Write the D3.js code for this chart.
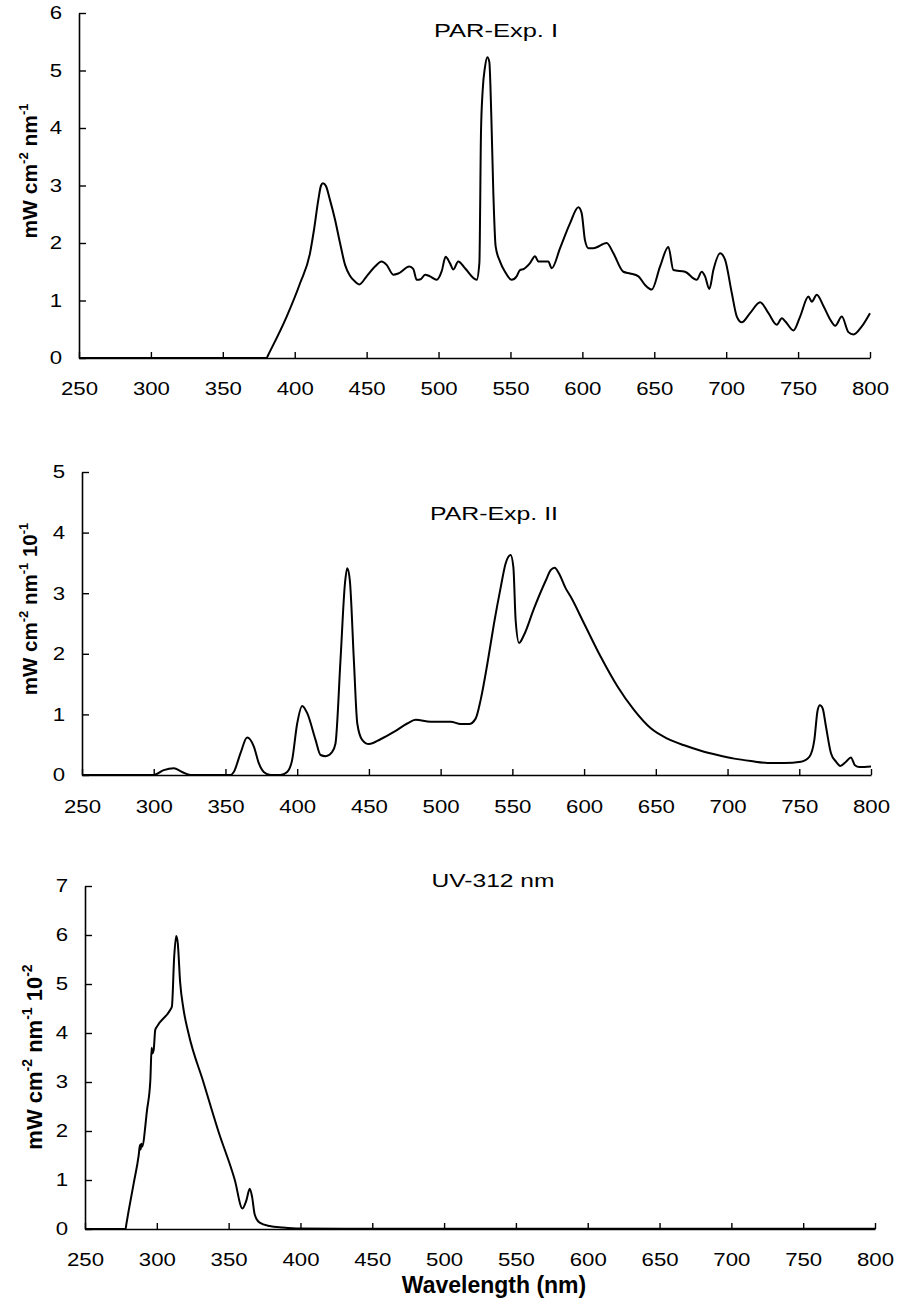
<!DOCTYPE html>
<html>
<head>
<meta charset="utf-8">
<script src="https://cdn.jsdelivr.net/npm/d3@7"></script>
<style>
  html, body { margin: 0; padding: 0; background: #fff; }
  svg { display: block; }
  text { font-family: "Liberation Sans", Arial, Helvetica, sans-serif; fill: #000; }
</style>
</head>
<body>
<svg id="chart" width="900" height="1305"></svg>
<script>
// ---------- DATA ----------
const xTickLabels = [250, 300, 350, 400, 450, 500, 550, 600, 650, 700, 750, 800];
const yTicksExp1 = [0, 1, 2, 3, 4, 5, 6];
const yTicksExp2 = [0, 1, 2, 3, 4, 5];
const yTicksUV = [0, 1, 2, 3, 4, 5, 6, 7];
const panelTitles = ["PAR-Exp. I", "PAR-Exp. II", "UV-312 nm"];
const xAxisTitle = "Wavelength (nm)";

// PAR-Exp. I  (mW cm-2 nm-1)
const exp1Wavelength = [250, 380.5, 381.3, 394.4, 403.7, 410.6, 413.4, 416.4, 418.3, 419.6, 421.7, 424.5, 428, 431.5, 435, 438.4, 441.9, 444.9, 450, 455.8, 460.4, 463.9, 468.5, 472, 479.7, 482.4, 484.8, 487.6, 490.6, 494, 498.7, 502.2, 504.9, 507.9, 510.3, 513.7, 518.4, 526.5, 528.4, 529.5, 530.7, 532.3, 533.9, 535.3, 536.7, 538.1, 539.7, 542.7, 546.2, 550.8, 554.3, 556.6, 559.4, 563.6, 567.1, 569.4, 576.3, 578.7, 584.5, 591.4, 597.2, 599.5, 601.8, 604.2, 607.7, 616.9, 621.6, 628.5, 633.2, 639, 643.6, 648.2, 654, 659.8, 663.3, 671.4, 679.5, 683, 685.3, 688.3, 691.1, 695.8, 699.2, 703.9, 707.4, 710.8, 716.6, 723.6, 729.4, 735.2, 738.7, 741, 746.8, 751.4, 757.2, 759.5, 763, 767.7, 772.3, 775.8, 780.4, 785, 788.5, 794.3, 800];
const exp1Irradiance = [0, 0, 0.04, 0.72, 1.30, 1.82, 2.23, 2.75, 3.00, 3.04, 2.99, 2.75, 2.41, 2.00, 1.62, 1.43, 1.33, 1.28, 1.42, 1.59, 1.68, 1.62, 1.45, 1.47, 1.59, 1.55, 1.36, 1.37, 1.45, 1.42, 1.36, 1.51, 1.76, 1.65, 1.54, 1.68, 1.56, 1.36, 1.66, 3.91, 4.66, 5.06, 5.23, 5.15, 4.20, 2.87, 1.94, 1.68, 1.50, 1.36, 1.42, 1.53, 1.55, 1.65, 1.77, 1.68, 1.68, 1.56, 1.91, 2.34, 2.62, 2.52, 2.05, 1.91, 1.91, 2.00, 1.82, 1.50, 1.47, 1.42, 1.27, 1.19, 1.59, 1.93, 1.53, 1.50, 1.36, 1.50, 1.42, 1.20, 1.53, 1.82, 1.71, 1.13, 0.72, 0.62, 0.78, 0.97, 0.78, 0.58, 0.69, 0.64, 0.48, 0.72, 1.07, 0.98, 1.10, 0.90, 0.67, 0.56, 0.72, 0.45, 0.41, 0.55, 0.78];

// PAR-Exp. II  (mW cm-2 nm-1 10-1)
const exp2Wavelength = [250, 300, 307, 314, 319.8, 325.6, 353.5, 355.8, 360.5, 365.1, 369.8, 373.3, 376.7, 381.4, 388.4, 393, 396.5, 400, 403.5, 407, 412.8, 416.3, 419.8, 424.4, 426.7, 430.2, 433.3, 434.9, 436.7, 439.5, 441.9, 445.3, 450, 458.1, 467.4, 476.7, 482.6, 493, 507, 514, 519.8, 524.4, 527.9, 532.6, 537.2, 541.9, 545.3, 548.8, 550.7, 552.3, 554.7, 558.1, 565.1, 573.3, 576.7, 579.5, 582.6, 587.2, 590.7, 600, 611.6, 623.3, 634.9, 646.5, 658.1, 669.8, 681.4, 693, 704.7, 716.3, 727.9, 739.5, 751.2, 757, 760.5, 762.8, 764.4, 766.3, 768.6, 772.1, 775.6, 778.6, 782.6, 786, 788.8, 791.9, 800];
const exp2Irradiance = [0, 0, 0.08, 0.11, 0.05, 0, 0, 0.05, 0.36, 0.62, 0.47, 0.19, 0.05, 0, 0, 0.05, 0.25, 0.85, 1.14, 1.02, 0.58, 0.33, 0.31, 0.38, 0.52, 1.90, 3.16, 3.41, 3.21, 1.90, 0.85, 0.58, 0.51, 0.59, 0.71, 0.85, 0.91, 0.88, 0.88, 0.84, 0.84, 0.93, 1.24, 1.84, 2.50, 3.10, 3.49, 3.63, 3.43, 2.55, 2.18, 2.31, 2.75, 3.21, 3.38, 3.42, 3.32, 3.08, 2.94, 2.50, 1.95, 1.46, 1.07, 0.77, 0.60, 0.49, 0.40, 0.33, 0.27, 0.23, 0.20, 0.20, 0.22, 0.30, 0.58, 1.07, 1.15, 1.10, 0.80, 0.36, 0.22, 0.15, 0.22, 0.29, 0.16, 0.13, 0.14];

// UV-312 nm  (mW cm-2 nm-1 10-2)
const uvWavelength = [250, 278.2, 278.8, 280.5, 283.9, 287.4, 288.3, 288.7, 289.2, 289.7, 293.2, 295.5, 296.4, 296.8, 297.8, 298.9, 300.1, 309.3, 310.5, 312.1, 313.5, 314.6, 316.2, 318.5, 322, 332.4, 342.8, 354.3, 359.6, 362.4, 364.7, 366.3, 368.2, 371.6, 378.5, 387.8, 399.3, 450, 800];
const uvIrradiance = [0, 0, 0.1, 0.39, 0.93, 1.51, 1.72, 1.62, 1.74, 1.68, 2.43, 3.04, 3.70, 3.58, 3.65, 4.06, 4.13, 4.47, 4.54, 5.56, 5.98, 5.83, 5.05, 4.50, 4.00, 3.00, 2.00, 1.00, 0.42, 0.59, 0.82, 0.66, 0.29, 0.13, 0.06, 0.03, 0.01, 0.005, 0.005];

// ---------- LAYOUT ----------
const svg = d3.select("#chart");
const FONT = '"Liberation Sans", Arial, Helvetica, sans-serif';

const panels = [
  { title: panelTitles[0], wl: exp1Wavelength, val: exp1Irradiance, yTicks: yTicksExp1, yMax: 6,
    left: 79, right: 870, top: 13, bottom: 358, xPad: 24,
    titleX: 496, titleY: 37, titleW: 124,
    ylab: { x: 37, y: 171, size: 21, sup: 13, parts: ["mW cm", "-2", " nm", "-1"] } },
  { title: panelTitles[1], wl: exp2Wavelength, val: exp2Irradiance, yTicks: yTicksExp2, yMax: 5,
    left: 82, right: 871, top: 472, bottom: 775, xPad: 25,
    titleX: 494, titleY: 520, titleW: 128,
    ylab: { x: 37, y: 609, size: 20.5, sup: 13, parts: ["mW cm", "-2", " nm", "-1", " 10", "-1"] } },
  { title: panelTitles[2], wl: uvWavelength, val: uvIrradiance, yTicks: yTicksUV, yMax: 7,
    left: 85, right: 875, top: 886, bottom: 1229, xPad: 24,
    titleX: 493, titleY: 887, titleW: 123,
    ylab: { x: 42, y: 1057, size: 22, sup: 14, parts: ["mW cm", "-2", " nm", "-1", " 10", "-2"] } }
];

function stretch(sel, k) {
  sel.each(function () {
    const w = this.getComputedTextLength();
    d3.select(this).attr("textLength", w * k).attr("lengthAdjust", "spacingAndGlyphs");
  });
}

panels.forEach(p => {
  const x = d3.scaleLinear().domain([250, 800]).range([p.left, p.right]);
  const y = d3.scaleLinear().domain([0, p.yMax]).range([p.bottom, p.top]);
  const g = svg.append("g");

  // x axis
  const xa = g.append("g")
    .attr("transform", `translate(0,${p.bottom})`)
    .call(d3.axisBottom(x).tickValues(xTickLabels).tickFormat(d3.format("d"))
      .tickSizeInner(-6).tickSizeOuter(0).tickPadding(p.xPad));
  xa.select(".domain").attr("stroke", "#000").attr("stroke-width", 1.6);
  xa.selectAll(".tick line").attr("stroke", "#000").attr("stroke-width", 1.4);
  xa.selectAll(".tick text").attr("font-size", 18.5).attr("font-family", FONT).attr("fill", "#000");
  stretch(xa.selectAll(".tick text"), 1.2);

  // y axis
  const ya = g.append("g")
    .attr("transform", `translate(${p.left},0)`)
    .call(d3.axisLeft(y).tickValues(p.yTicks).tickFormat(d3.format("d"))
      .tickSizeInner(-7).tickSizeOuter(0).tickPadding(17));
  ya.select(".domain").attr("stroke", "#000").attr("stroke-width", 1.6);
  ya.selectAll(".tick line").attr("stroke", "#000").attr("stroke-width", 1.4);
  ya.selectAll(".tick text").attr("font-size", 18.5).attr("font-family", FONT).attr("fill", "#000");
  stretch(ya.selectAll(".tick text"), 1.2);

  // curve
  const pts = p.wl.map((w, i) => [w, p.val[i]]);
  g.append("path")
    .datum(pts)
    .attr("fill", "none")
    .attr("stroke", "#000")
    .attr("stroke-width", 2)
    .attr("stroke-linejoin", "round")
    .attr("d", d3.line().x(d => x(d[0])).y(d => y(d[1])).curve(d3.curveMonotoneX));

  // panel title
  g.append("text")
    .attr("x", p.titleX).attr("y", p.titleY)
    .attr("text-anchor", "middle")
    .attr("font-size", 19)
    .attr("textLength", p.titleW).attr("lengthAdjust", "spacingAndGlyphs")
    .text(p.title);

  // y-axis label (rotated, bold, with superscripts)
  const yl = g.append("text")
    .attr("transform", `translate(${p.ylab.x},${p.ylab.y}) rotate(-90)`)
    .attr("text-anchor", "middle")
    .attr("font-weight", "bold")
    .attr("font-size", p.ylab.size);
  const shift = Math.round(p.ylab.size * 0.45);
  p.ylab.parts.forEach((t, i) => {
    const isSup = i % 2 === 1;
    yl.append("tspan")
      .attr("font-size", isSup ? p.ylab.sup : p.ylab.size)
      .attr("dy", i === 0 ? 0 : (isSup ? -shift : shift))
      .text(t);
  });
});

// x-axis title
svg.append("text")
  .attr("x", 494).attr("y", 1293)
  .attr("text-anchor", "middle")
  .attr("font-weight", "bold")
  .attr("font-size", 23)
  .text(xAxisTitle);
</script>
</body>
</html>
